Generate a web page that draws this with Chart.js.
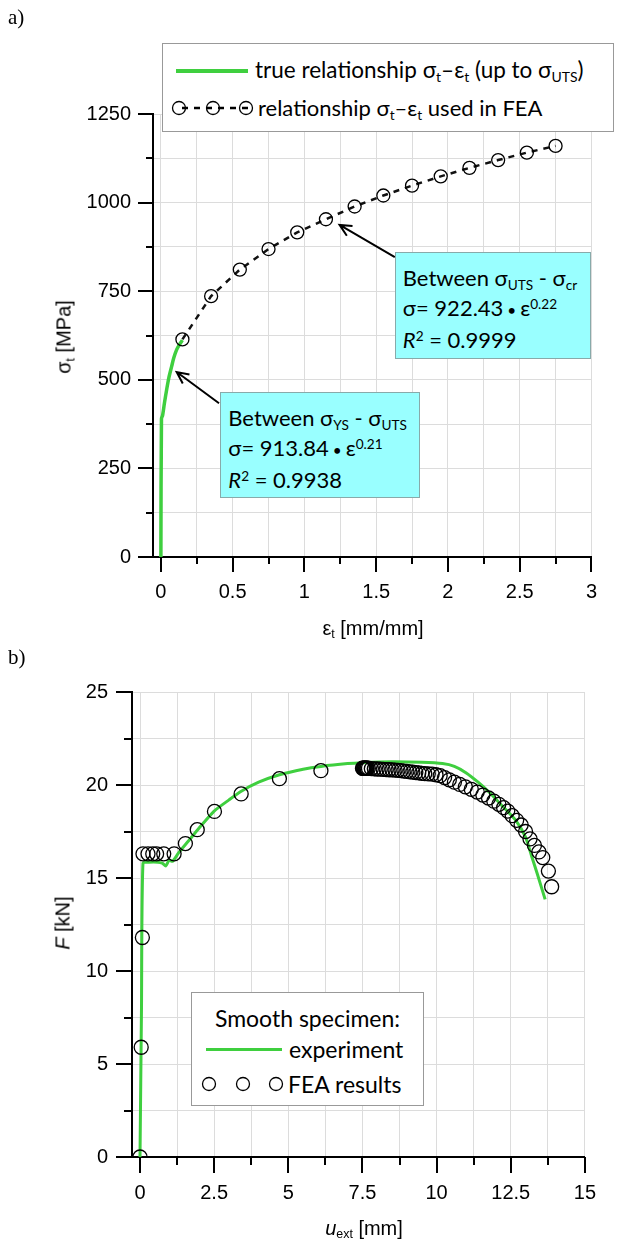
<!DOCTYPE html>
<html>
<head>
<meta charset="utf-8">
<script src="https://cdn.jsdelivr.net/npm/chart.js@4.4.1/dist/chart.umd.min.js"></script>
<style>
  html, body { margin: 0; padding: 0; background: #fff; }
  #wrap { position: relative; width: 620px; height: 1243px; overflow: hidden; }
  canvas { position: absolute; left: 0; }
  .abs { position: absolute; white-space: nowrap; color: #000; }
  .panel { font-family: 'Liberation Serif', 'Times New Roman', serif; font-size: 21px; }
  .gill { font-family: Lato, 'Open Sans', sans-serif; }
  .axt { font-size: 23px; }
  .box { position: absolute; border: 1px solid #999; background: #fff; }
  .note { position: absolute; background: #99ffff; border: 1px solid #8aa; font-size: 22px; line-height: 30px; padding: 10px 0 0 7px; box-sizing: border-box; }
  sub, sup { font-size: 0.62em; line-height: 0; }
  sub { vertical-align: -0.3em; }
  sup { vertical-align: 0.55em; }
</style>
</head>
<body>
<div id="wrap">
  <canvas id="chartA" width="620" height="640" style="top:0"></canvas>
  <canvas id="chartB" width="620" height="603" style="top:640px"></canvas>

  <div class="abs panel" style="left:8px; top:5px">a)</div>
  <div class="abs panel" style="left:8px; top:645px">b)</div>

  <!-- axis titles -->
  <div class="abs axt tickf" id="ytA" style="left:64px; top:337px; transform: translate(-50%,-50%) rotate(-90deg)">σ<sub>t</sub> [MPa]</div>
  <div class="abs axt tickf" id="xtA" style="left:373px; top:628px; transform: translate(-50%,-50%)">ε<sub>t</sub> [mm/mm]</div>
  <div class="abs axt tickf" id="ytB" style="left:63px; top:923px; transform: translate(-50%,-50%) rotate(-90deg)"><i>F</i> [kN]</div>
  <div class="abs axt tickf" id="xtB" style="left:364px; top:1228px; transform: translate(-50%,-50%)"><i>u</i><sub>ext</sub> [mm]</div>

  <!-- legend a -->
  <div class="box gill" style="left:162px; top:43px; width:450px; height:87px;">
    <div class="abs" style="left:13px; top:25px; width:72px; height:4px; background:#3fcf3f"></div>
    <div class="abs" style="left:92px; top:11px; font-size:22.5px; line-height:30px">true relationship σ<sub>t</sub>–ε<sub>t</sub> (up to σ<sub>UTS</sub>)</div>
    <svg class="abs" style="left:4px; top:54px" width="92" height="20">
      <line x1="12" y1="10" x2="82" y2="10" stroke="#000" stroke-width="2.5" stroke-dasharray="6,6" stroke-dashoffset="-3"/>
      <circle cx="12" cy="10" r="6.5" fill="none" stroke="#000" stroke-width="1.3"/>
      <circle cx="46" cy="10" r="6.5" fill="none" stroke="#000" stroke-width="1.3"/>
      <circle cx="79" cy="10" r="6.5" fill="none" stroke="#000" stroke-width="1.3"/>
    </svg>
    <div class="abs" style="left:95px; top:49px; font-size:22px; line-height:30px">relationship σ<sub>t</sub>–ε<sub>t</sub> used in FEA</div>
  </div>

  <!-- annotation boxes a (placed from data coordinates after render) -->
  <div class="note gill" id="noteUts" style="width:196px; height:107px">
    Between σ<sub>UTS</sub> - σ<sub>cr</sub><br>
    σ= 922.43<span style="font-size:0.7em"> • </span>ε<sup>0.22</sup><br>
    <i>R</i><sup>2</sup> = 0.9999
  </div>
  <div class="note gill" id="noteYs" style="width:200px; height:106px">
    Between σ<sub>YS</sub> - σ<sub>UTS</sub><br>
    σ= 913.84<span style="font-size:0.7em"> • </span>ε<sup>0.21</sup><br>
    <i>R</i><sup>2</sup> = 0.9938
  </div>

  <!-- legend b -->
  <div class="box gill" style="left:191px; top:992px; width:231px; height:112px;">
    <div class="abs" style="left:0; width:231px; top:10px; text-align:center; font-size:23px; line-height:30px">Smooth specimen:</div>
    <div class="abs" style="left:14px; top:55px; width:76px; height:3px; background:#3fcf3f"></div>
    <div class="abs" style="left:97px; top:41px; font-size:23px; line-height:30px">experiment</div>
    <svg class="abs" style="left:6px; top:81px" width="90" height="20">
      <circle cx="11" cy="10" r="6.5" fill="none" stroke="#000" stroke-width="1.3"/>
      <circle cx="45" cy="10" r="6.5" fill="none" stroke="#000" stroke-width="1.3"/>
      <circle cx="78" cy="10" r="6.5" fill="none" stroke="#000" stroke-width="1.3"/>
    </svg>
    <div class="abs" style="left:96px; top:76px; font-size:23px; line-height:30px">FEA results</div>
  </div>
</div>

<script>
// ---- a) true stress-strain ----
const strainTrue = [0, 0.004, 0.012, 0.016, 0.025, 0.04, 0.055, 0.075, 0.09, 0.11, 0.13, 0.15];
const stressTrue = [0, 390, 400, 410, 435, 472, 505, 538, 562, 585, 600, 612];
const strainFea = [0.15, 0.35, 0.55, 0.75, 0.95, 1.15, 1.35, 1.55, 1.75, 1.95, 2.15, 2.35, 2.55, 2.75];
const stressFea = [614, 736, 811, 869, 916, 953, 989, 1020, 1048, 1074, 1098, 1120, 1141, 1160];
const xTicksA = [0, 0.25, 0.5, 0.75, 1, 1.25, 1.5, 1.75, 2, 2.25, 2.5, 2.75, 3];
const yTicksA = [0, 125, 250, 375, 500, 625, 750, 875, 1000, 1125, 1250];

// ---- b) force-displacement ----
const dispExp = [0, 0.05, 0.1, 0.3, 0.6, 0.75, 0.87, 0.98, 1.1, 1.3, 1.64, 2.0, 2.5, 3.0, 3.4, 4.0, 4.7, 5.5, 6.1, 7.0, 7.5, 8.5, 9.5, 10.2, 10.6, 11.0, 11.4, 11.8, 12.2, 12.67, 13.0, 13.2, 13.4, 13.66];
const forceExp = [0, 8, 15.8, 15.85, 15.85, 15.8, 15.65, 15.95, 15.9, 16.35, 17.0, 17.7, 18.6, 19.2, 19.65, 20.15, 20.55, 20.85, 21.0, 21.15, 21.2, 21.25, 21.22, 21.15, 21.0, 20.65, 20.15, 19.57, 18.9, 18.1, 17.2, 16.2, 15.2, 13.85];
const dispFea = [0, 0.04, 0.08, 0.1, 0.27, 0.43, 0.56, 0.8, 1.15, 1.53, 1.93, 2.51, 3.41, 4.7, 6.1,
  7.5, 7.52, 7.54, 7.56, 7.58, 7.6, 7.62, 7.64, 7.66, 7.7,
  7.8, 7.9, 8.0, 8.1, 8.2, 8.3, 8.4, 8.5, 8.6, 8.7, 8.8, 8.9, 9.0, 9.1, 9.2, 9.3, 9.4, 9.5, 9.6, 9.72, 9.85, 9.98,
  10.12, 10.27, 10.43, 10.6, 10.78, 10.97, 11.17, 11.37, 11.56, 11.75, 11.93, 12.1, 12.26, 12.4, 12.55, 12.7, 12.85, 13.0, 13.15, 13.3, 13.45, 13.58, 13.77, 13.88];
const forceFea = [0, 5.9, 11.8, 16.3, 16.3, 16.3, 16.3, 16.3, 16.3, 16.85, 17.6, 18.58, 19.52, 20.34, 20.77,
  20.9, 20.9, 20.9, 20.9, 20.9, 20.9, 20.9, 20.9, 20.9, 20.9,
  20.88, 20.87, 20.86, 20.85, 20.84, 20.83, 20.82, 20.81, 20.8, 20.79, 20.77, 20.75, 20.73, 20.71, 20.69, 20.67, 20.65, 20.63, 20.61, 20.6, 20.58, 20.55,
  20.5, 20.4, 20.28, 20.15, 20.03, 19.9, 19.77, 19.62, 19.46, 19.3, 19.13, 18.96, 18.78, 18.6, 18.35, 18.1, 17.85, 17.5, 17.1, 16.75, 16.4, 16.1, 15.37, 14.53];
const xTicksB = [0, 1.25, 2.5, 3.75, 5, 6.25, 7.5, 8.75, 10, 11.25, 12.5, 13.75, 15];
const yTicksB = [0, 2.5, 5, 7.5, 10, 12.5, 15, 17.5, 20, 22.5, 25];

const GREEN = '#3fcf3f';

// pick a narrow sans for tick labels if it exists
function hasFont(name) {
    const c = document.createElement('canvas').getContext('2d');
    c.font = '40px monospace';
    const w1 = c.measureText('0123456789 mmm').width;
    c.font = `40px '${name}', monospace`;
    const w2 = c.measureText('0123456789 mmm').width;
    return w1 !== w2;
}
const narrow = hasFont('Liberation Sans Narrow');
const tickFamily = narrow ? "'Liberation Sans Narrow', 'Liberation Sans', Arial" : "'Liberation Sans', Arial";
const tickSize = narrow ? 23 : 20;
document.querySelectorAll('.tickf').forEach(el => {
    el.style.fontFamily = tickFamily;
    el.style.fontSize = tickSize + 'px';
});

function pairs(xs, ys) {
    return xs.map((x, i) => ({ x: x, y: ys[i] }));
}
function isStep(v, step) {
    return Math.abs(v / step - Math.round(v / step)) < 1e-9;
}

// outward tick marks, long on labelled ticks
const tickMarks = {
    id: 'tickMarks',
    afterDraw(chart, args, opts) {
        const ctx = chart.ctx;
        const xs = chart.scales.x, ys = chart.scales.y;
        const area = chart.chartArea;
        ctx.save();
        ctx.strokeStyle = '#000';
        ctx.lineWidth = 2;
        ctx.beginPath();
        xs.ticks.forEach(t => {
            const px = Math.round(xs.getPixelForValue(t.value));
            const len = isStep(t.value, opts.xMajor) ? opts.major : opts.minor;
            ctx.moveTo(px, area.bottom);
            ctx.lineTo(px, area.bottom + len);
        });
        ys.ticks.forEach(t => {
            const py = Math.round(ys.getPixelForValue(t.value));
            const len = isStep(t.value, opts.yMajor) ? opts.major : opts.minor;
            ctx.moveTo(area.left, py);
            ctx.lineTo(area.left - len, py);
        });
        ctx.stroke();
        ctx.restore();
    }
};

// arrows from note boxes to the curve, in data coordinates
const arrows = {
    id: 'arrows',
    afterDatasetsDraw(chart, args, opts) {
        const ctx = chart.ctx;
        const xs = chart.scales.x, ys = chart.scales.y;
        ctx.save();
        ctx.strokeStyle = '#000';
        ctx.lineWidth = 2;
        (opts.list || []).forEach(a => {
            const x1 = xs.getPixelForValue(a.from[0]), y1 = ys.getPixelForValue(a.from[1]);
            const x2 = xs.getPixelForValue(a.to[0]), y2 = ys.getPixelForValue(a.to[1]);
            const ang = Math.atan2(y2 - y1, x2 - x1);
            const h = 13, w = 0.45;
            ctx.beginPath();
            ctx.moveTo(x1, y1);
            ctx.lineTo(x2, y2);
            ctx.moveTo(x2 - h * Math.cos(ang - w), y2 - h * Math.sin(ang - w));
            ctx.lineTo(x2, y2);
            ctx.lineTo(x2 - h * Math.cos(ang + w), y2 - h * Math.sin(ang + w));
            ctx.stroke();
        });
        ctx.restore();
    }
};

function axis(min, max, ticks, labelStep, padding, size) {
    return {
        type: 'linear',
        min: min,
        max: max,
        afterBuildTicks: s => { s.ticks = ticks.map(v => ({ value: v })); },
        afterFit: s => {
            if (s.isHorizontal()) s.height = size; else s.width = size;
        },
        grid: { color: '#dcdcdc', lineWidth: 1, drawTicks: false },
        border: { display: true, color: '#000', width: 2 },
        ticks: {
            autoSkip: false,
            maxRotation: 0,
            padding: padding,
            color: '#000',
            font: { family: tickFamily, size: tickSize },
            callback: v => isStep(v, labelStep) ? String(v) : ''
        }
    };
}

const chartA = new Chart(document.getElementById('chartA'), {
    type: 'scatter',
    data: {
        datasets: [
            {
                label: 'relationship used in FEA',
                data: pairs(strainFea, stressFea),
                showLine: true,
                borderColor: '#111',
                borderWidth: 2.5,
                borderDash: [6, 6],
                pointRadius: 6.5,
                pointBorderWidth: 1.3,
                pointBorderColor: '#000',
                pointBackgroundColor: 'rgba(0,0,0,0)'
            },
            {
                label: 'true relationship',
                data: pairs(strainTrue, stressTrue),
                showLine: true,
                borderColor: GREEN,
                borderWidth: 3.5,
                pointRadius: 0,
                tension: 0.3
            }
        ]
    },
    options: {
        responsive: false,
        animation: false,
        events: [],
        layout: { padding: { left: 0, right: 24, top: 114, bottom: 0 } },
        plugins: {
            legend: { display: false },
            tooltip: { enabled: false },
            tickMarks: { xMajor: 0.5, yMajor: 250, major: 15, minor: 7 },
            arrows: {
                list: [
                    { from: [1.63, 846], to: [1.245, 937] },
                    { from: [0.405, 434], to: [0.11, 522] }
                ]
            }
        },
        scales: {
            x: axis(-0.055, 3, xTicksA, 0.5, 23, 83),
            y: axis(0, 1250, yTicksA, 250, 22, 153)
        }
    },
    plugins: [tickMarks, arrows]
});

// place the note boxes from data coordinates
function place(id, chart, x, y) {
    const el = document.getElementById(id);
    el.style.left = chart.scales.x.getPixelForValue(x) + 'px';
    el.style.top = chart.scales.y.getPixelForValue(y) + 'px';
}
place('noteUts', chartA, 1.63, 860);
place('noteYs', chartA, 0.414, 465);

const chartB = new Chart(document.getElementById('chartB'), {
    type: 'scatter',
    data: {
        datasets: [
            {
                label: 'FEA results',
                data: pairs(dispFea, forceFea),
                showLine: false,
                pointRadius: 7,
                pointBorderWidth: 1.3,
                pointBorderColor: '#000',
                pointBackgroundColor: 'rgba(0,0,0,0)'
            },
            {
                label: 'experiment',
                data: pairs(dispExp, forceExp),
                showLine: true,
                borderColor: GREEN,
                borderWidth: 3,
                pointRadius: 0,
                tension: 0.2
            }
        ]
    },
    options: {
        responsive: false,
        animation: false,
        events: [],
        layout: { padding: { left: 0, right: 22, top: 52, bottom: 0 } },
        plugins: {
            legend: { display: false },
            tooltip: { enabled: false },
            tickMarks: { xMajor: 2.5, yMajor: 5, major: 16, minor: 8 }
        },
        scales: {
            x: axis(-0.27, 15, xTicksB, 2.5, 24, 86),
            y: axis(0, 25, yTicksB, 5, 24, 132)
        }
    },
    plugins: [tickMarks]
});
</script>
</body>
</html>
